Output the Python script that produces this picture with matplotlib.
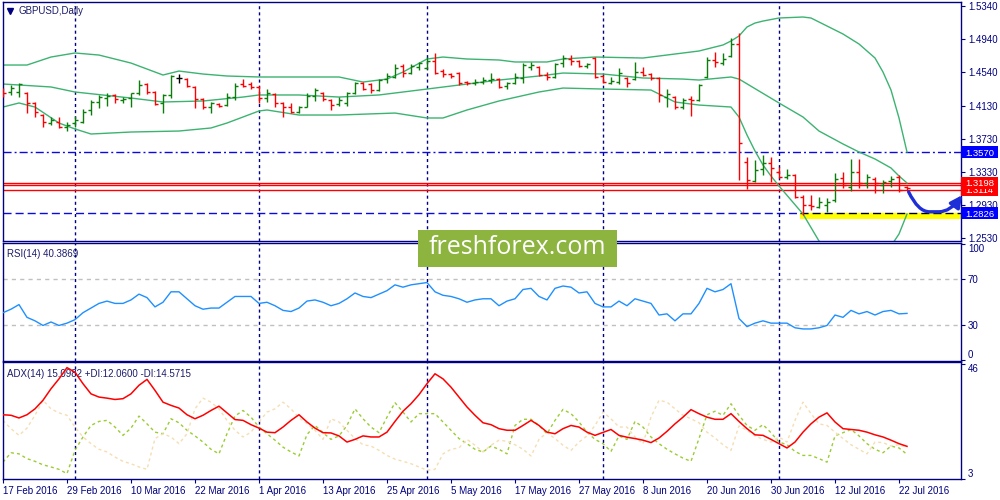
import numpy as np
import pandas as pd
import matplotlib
matplotlib.use('Agg')
from matplotlib import pyplot as plt
from matplotlib.patches import Rectangle, FancyArrowPatch
from matplotlib.path import Path
from matplotlib import transforms

plt.rcParams['font.family'] = ['Liberation Sans', 'DejaVu Sans']

# daily bars, 17 Feb 2016 .. 25 Jul 2016
dates = pd.bdate_range('2016-02-17', periods=114)

opens = [1.4322, 1.4298, 1.4298, 1.4286, 1.4165, 1.4019, 1.3922, 1.3934, 1.3874, 1.3922,
         1.3934, 1.4080, 1.4177, 1.4225, 1.4262, 1.4201, 1.4225, 1.4286, 1.4395, 1.4298,
         1.4165, 1.4262, 1.4468, 1.4455, 1.4359, 1.4213, 1.4116, 1.4153, 1.4140, 1.4237,
         1.4395, 1.4395, 1.4359, 1.4225, 1.4274, 1.4165, 1.4116, 1.4056, 1.4116, 1.4250,
         1.4286, 1.4201, 1.4153, 1.4165, 1.4286, 1.4407, 1.4395, 1.4322, 1.4455, 1.4480,
         1.4613, 1.4528, 1.4601, 1.4589, 1.4674, 1.4552, 1.4516, 1.4528, 1.4419, 1.4407,
         1.4419, 1.4443, 1.4455, 1.4371, 1.4407, 1.4468, 1.4601, 1.4601, 1.4504, 1.4480,
         1.4649, 1.4698, 1.4674, 1.4613, 1.4710, 1.4492, 1.4407, 1.4419, 1.4468, 1.4455,
         1.4540, 1.4516, 1.4468, 1.4237, 1.4237, 1.4116, 1.4213, 1.4201, 1.4480, 1.4686,
         1.4649, 1.4734, 1.4880, 1.3450, 1.3219, 1.3365, 1.3437, 1.3328, 1.3268, 1.3292,
         1.3026, 1.2928, 1.2904, 1.2928, 1.2989, 1.3256, 1.3147, 1.3328, 1.3195, 1.3244,
         1.3171, 1.3219, 1.3268, 1.3147]
highs = [1.4346, 1.4383, 1.4407, 1.4298, 1.4177, 1.4031, 1.3995, 1.3995, 1.3934, 1.4007,
         1.4092, 1.4201, 1.4262, 1.4286, 1.4274, 1.4237, 1.4286, 1.4443, 1.4407, 1.4310,
         1.4274, 1.4504, 1.4516, 1.4468, 1.4371, 1.4225, 1.4177, 1.4165, 1.4286, 1.4407,
         1.4455, 1.4419, 1.4371, 1.4334, 1.4286, 1.4177, 1.4165, 1.4128, 1.4286, 1.4346,
         1.4298, 1.4213, 1.4237, 1.4298, 1.4419, 1.4419, 1.4407, 1.4455, 1.4528, 1.4637,
         1.4637, 1.4637, 1.4662, 1.4722, 1.4771, 1.4577, 1.4528, 1.4540, 1.4431, 1.4455,
         1.4480, 1.4528, 1.4468, 1.4419, 1.4528, 1.4649, 1.4662, 1.4613, 1.4540, 1.4649,
         1.4746, 1.4746, 1.4686, 1.4649, 1.4722, 1.4504, 1.4480, 1.4589, 1.4480, 1.4662,
         1.4601, 1.4528, 1.4480, 1.4334, 1.4250, 1.4225, 1.4250, 1.4395, 1.4722, 1.4783,
         1.4771, 1.4952, 1.5013, 1.3510, 1.3474, 1.3534, 1.3510, 1.3389, 1.3365, 1.3304,
         1.3050, 1.3050, 1.3026, 1.3013, 1.3316, 1.3328, 1.3486, 1.3486, 1.3304, 1.3268,
         1.3231, 1.3280, 1.3292, 1.3159]
lows = [1.4237, 1.4262, 1.4237, 1.4043, 1.3995, 1.3874, 1.3898, 1.3862, 1.3825, 1.3874,
        1.3922, 1.4019, 1.4104, 1.4128, 1.4165, 1.4165, 1.4116, 1.4262, 1.4274, 1.4140,
        1.4043, 1.4225, 1.4407, 1.4359, 1.4104, 1.4092, 1.4043, 1.4116, 1.4128, 1.4201,
        1.4359, 1.4334, 1.4165, 1.4177, 1.4116, 1.3995, 1.4043, 1.4043, 1.4116, 1.4189,
        1.4189, 1.4080, 1.4128, 1.4128, 1.4274, 1.4322, 1.4286, 1.4310, 1.4407, 1.4468,
        1.4480, 1.4516, 1.4565, 1.4577, 1.4516, 1.4480, 1.4468, 1.4383, 1.4383, 1.4383,
        1.4395, 1.4407, 1.4346, 1.4334, 1.4395, 1.4407, 1.4565, 1.4492, 1.4443, 1.4468,
        1.4601, 1.4625, 1.4601, 1.4589, 1.4468, 1.4407, 1.4395, 1.4395, 1.4359, 1.4443,
        1.4492, 1.4443, 1.4177, 1.4116, 1.4092, 1.4092, 1.4007, 1.4189, 1.4468, 1.4601,
        1.4625, 1.4722, 1.3231, 1.3122, 1.3207, 1.3292, 1.3207, 1.3256, 1.3244, 1.3013,
        1.2807, 1.2868, 1.2892, 1.2844, 1.2965, 1.3134, 1.3098, 1.3134, 1.3134, 1.3074,
        1.3074, 1.3147, 1.3086, 1.3110]
closes = [1.4286, 1.4346, 1.4395, 1.4165, 1.4056, 1.3934, 1.3959, 1.3874, 1.3898, 1.3959,
          1.4056, 1.4177, 1.4237, 1.4250, 1.4213, 1.4213, 1.4286, 1.4383, 1.4298, 1.4153,
          1.4262, 1.4492, 1.4468, 1.4371, 1.4213, 1.4116, 1.4165, 1.4128, 1.4237, 1.4371,
          1.4371, 1.4359, 1.4225, 1.4286, 1.4165, 1.4116, 1.4056, 1.4116, 1.4250, 1.4322,
          1.4213, 1.4140, 1.4201, 1.4286, 1.4407, 1.4334, 1.4322, 1.4443, 1.4492, 1.4589,
          1.4528, 1.4613, 1.4649, 1.4674, 1.4528, 1.4516, 1.4492, 1.4407, 1.4407, 1.4419,
          1.4443, 1.4455, 1.4359, 1.4407, 1.4480, 1.4625, 1.4625, 1.4504, 1.4480, 1.4637,
          1.4710, 1.4674, 1.4613, 1.4637, 1.4480, 1.4419, 1.4431, 1.4528, 1.4407, 1.4540,
          1.4504, 1.4468, 1.4262, 1.4274, 1.4116, 1.4201, 1.4201, 1.4383, 1.4686, 1.4662,
          1.4698, 1.4880, 1.3680, 1.3231, 1.3353, 1.3437, 1.3377, 1.3268, 1.3292, 1.3026,
          1.2928, 1.2916, 1.2965, 1.2965, 1.3244, 1.3171, 1.3328, 1.3195, 1.3268, 1.3195,
          1.3207, 1.3244, 1.3110, 1.3134]

# Bollinger bands (20, 2), read at bar indices
bb_up_idx = [0, 3, 6, 9, 12, 16, 20, 22, 25, 28, 32, 37, 42, 45, 48, 50, 53, 55, 58, 62,
             64, 68, 70, 74, 80, 87, 90, 91, 92, 93, 94, 95, 97, 100, 101, 103, 105, 107,
             109, 110, 111, 112, 113]
bb_up = [1.4625, 1.4625, 1.4722, 1.4771, 1.4746, 1.4649, 1.4504, 1.4552, 1.4516, 1.4492,
         1.4480, 1.4480, 1.4480, 1.4419, 1.4455, 1.4540, 1.4698, 1.4722, 1.4698, 1.4686,
         1.4662, 1.4662, 1.4698, 1.4722, 1.4710, 1.4795, 1.4868, 1.4916, 1.4977, 1.5086,
         1.5134, 1.5158, 1.5195, 1.5207, 1.5195, 1.5098, 1.5001, 1.4880, 1.4710, 1.4540,
         1.4322, 1.3983, 1.3571]
bb_mid_idx = [0, 6, 9, 16, 20, 25, 30, 32, 37, 42, 47, 53, 62, 67, 70, 75, 80, 85, 87, 91,
              92, 97, 100, 102, 105, 107, 109, 111, 112, 113]
bb_mid = [1.4395, 1.4359, 1.4298, 1.4225, 1.4177, 1.4189, 1.4237, 1.4262, 1.4262, 1.4237,
          1.4262, 1.4334, 1.4443, 1.4492, 1.4528, 1.4516, 1.4468, 1.4455, 1.4443, 1.4480,
          1.4455, 1.4165, 1.3995, 1.3825, 1.3668, 1.3571, 1.3486, 1.3377, 1.3280, 1.3195]
bb_low_idx = [0, 2, 4, 7, 9, 11, 16, 22, 26, 28, 32, 33, 37, 42, 49, 53, 55, 58, 62, 67,
              70, 75, 81, 84, 87, 91, 92, 93, 94, 95, 96, 97, 100, 102, 103, 105, 107, 109,
              110, 111, 112, 113]
bb_low = [1.4116, 1.4165, 1.4116, 1.3922, 1.3850, 1.3789, 1.3813, 1.3825, 1.3862, 1.3922,
          1.4068, 1.4080, 1.4019, 1.4019, 1.4043, 1.3983, 1.3983, 1.4080, 1.4189, 1.4298,
          1.4346, 1.4334, 1.4322, 1.4177, 1.4140, 1.4116, 1.3995, 1.3777, 1.3583, 1.3413,
          1.3280, 1.3159, 1.2819, 1.2492, 1.2407, 1.2335, 1.2262, 1.2262, 1.2335, 1.2431,
          1.2577, 1.2819]

rsi = [41, 44, 48, 37, 34, 30, 33, 30, 32, 35,
       41, 45, 49, 51, 49, 49, 52, 57, 54, 46,
       50, 59, 59, 53, 47, 44, 45, 45, 50, 55,
       55, 55, 49, 50, 47, 43, 42, 45, 51, 52,
       50, 47, 49, 53, 58, 55, 54, 57, 60, 65,
       63, 65, 66, 67, 59, 56, 55, 53, 50, 52,
       53, 53, 47, 51, 53, 61, 62, 55, 52, 62,
       64, 63, 58, 59, 49, 46, 46, 51, 47, 53,
       51, 49, 39, 40, 34, 40, 40, 49, 62, 59,
       61, 66, 36, 29, 32, 34, 32, 32, 32, 28,
       27, 27, 28, 30, 39, 37, 43, 40, 42, 39,
       42, 43, 40, 40.4]

adx = [26.9, 26.7, 25.7, 26.9, 29.1, 32.3, 36.6, 40.3, 44.5, 42.8,
       38.5, 34.7, 33.5, 33.1, 32.6, 32.9, 34.7, 37.9, 40.1, 36.0,
       31.6, 30.4, 29.4, 26.9, 25.4, 26.7, 28.5, 30.1, 27.6, 25.1,
       24.8, 23.2, 21.9, 20.4, 20.2, 22.3, 24.8, 26.9, 24.2, 21.9,
       20.2, 20.1, 19.0, 16.7, 17.7, 19.0, 18.6, 18.6, 20.4, 24.4,
       28.2, 31.0, 34.4, 38.5, 42.2, 40.3, 37.2, 33.5, 29.8, 26.7,
       23.9, 23.2, 21.7, 21.1, 21.1, 22.9, 24.8, 22.9, 20.4, 19.8,
       21.7, 22.9, 22.3, 20.4, 19.2, 20.3, 21.4, 19.2, 18.5, 18.0,
       17.4, 16.5, 18.2, 20.7, 23.5, 26.0, 28.8, 27.3, 26.0, 25.2,
       25.2, 27.3, 24.4, 21.7, 19.4, 19.2, 17.7, 16.1, 14.5, 16.7,
       20.4, 23.5, 26.0, 27.6, 24.2, 21.7, 21.4, 21.1, 20.4, 19.4,
       18.6, 17.4, 16.1, 15.1]
plus_di = [9.2, 12.7, 12.3, 10.5, 9.5, 8.2, 7.4, 6.5, 4.9, 13.6,
           18.6, 22.9, 24.4, 24.8, 22.3, 19.2, 21.9, 26.4, 23.5, 20.4,
           19.8, 25.4, 23.9, 21.1, 19.0, 16.7, 14.0, 12.3, 19.8, 26.4,
           28.5, 26.0, 22.3, 19.8, 17.4, 14.8, 13.0, 11.5, 19.5, 22.9,
           20.2, 17.7, 19.0, 22.9, 29.1, 25.4, 22.3, 20.2, 26.0, 31.4,
           27.9, 24.2, 27.3, 27.3, 27.3, 24.2, 21.1, 18.0, 16.1, 14.0,
           13.0, 15.2, 14.0, 12.3, 22.9, 25.2, 25.2, 22.9, 19.8, 24.8,
           28.9, 27.3, 24.2, 20.4, 17.7, 16.1, 13.2, 19.0, 17.7, 24.4,
           22.3, 18.6, 16.1, 14.0, 12.3, 10.7, 9.5, 18.0, 26.9, 28.2,
           26.7, 31.0, 26.7, 22.9, 21.1, 23.2, 20.2, 16.7, 15.7, 13.2,
           11.7, 11.7, 10.5, 9.2, 19.0, 20.2, 21.4, 19.0, 16.1, 14.0,
           12.7, 15.2, 14.5, 12.1]
minus_di = [24.8, 21.7, 19.2, 21.9, 26.7, 32.3, 29.1, 27.6, 26.7, 22.3,
            18.6, 16.1, 14.0, 13.0, 11.1, 9.5, 8.6, 7.4, 6.5, 18.0,
            19.8, 18.6, 16.1, 19.8, 29.1, 33.1, 31.6, 29.1, 24.8, 21.1,
            18.6, 20.4, 24.2, 27.9, 29.1, 31.6, 29.1, 25.7, 23.7, 21.1,
            17.7, 25.4, 24.2, 21.1, 18.0, 15.7, 15.2, 13.6, 11.7, 10.3,
            9.5, 8.6, 7.4, 6.2, 6.5, 12.3, 14.0, 14.5, 17.7, 15.5,
            13.0, 15.5, 17.4, 17.0, 15.7, 14.0, 11.5, 17.7, 20.2, 18.0,
            15.5, 13.6, 16.7, 19.0, 22.9, 27.9, 25.4, 22.3, 22.3, 18.6,
            16.1, 26.0, 32.3, 31.6, 29.1, 26.7, 25.4, 23.9, 20.4, 18.2,
            15.7, 13.6, 22.7, 21.1, 19.0, 17.7, 16.7, 18.6, 16.7, 24.8,
            31.6, 27.3, 23.5, 22.9, 20.4, 18.0, 15.7, 14.0, 12.3, 16.7,
            16.5, 15.2, 15.7, 14.6]

price_ticks = [1.2530, 1.2930, 1.3330, 1.3730, 1.4130, 1.4540, 1.4940, 1.5340]
resistance = 1.3570
support = 1.2826
red_levels = [1.3198, 1.3170, 1.3114]
zone_low = 1.2758
zone_start = 99.6
# hand-drawn arrow (bar, price)
arrow_pts = [(113.2, 1.3088), (114.4, 1.2846), (115.8, 1.2846), (117.0, 1.2846),
             (118.4, 1.2846), (119.9, 1.3048)]

for s in (opens, highs, lows, closes, rsi, adx, plus_di, minus_di):
    assert len(s) == len(dates)

NAVY = '#000080'
TXT = '#1c1c6c'
UP = '#0b7d0b'
DOWN = '#ff0000'
BAND = '#3cb371'
BLUE = '#0a0ae0'

fig = plt.figure(figsize=(10, 5), dpi=100)
fig.patch.set_facecolor('white')


def panel(top, bottom):
    a = fig.add_axes([2.5 / 1000, 1 - bottom / 500, (961 - 2.5) / 1000, (bottom - top) / 500])
    for sp in a.spines.values():
        sp.set_color(NAVY)
        sp.set_linewidth(1.0)
    a.set_xlim(-0.06, 119.75)
    a.yaxis.tick_right()
    a.tick_params(axis='y', direction='out', length=3, color=NAVY, labelcolor=NAVY,
                  labelsize=7, pad=2)
    a.tick_params(axis='x', bottom=False, labelbottom=False)
    return a


ax = panel(2, 241)
ax_rsi = panel(242.5, 360.5)
ax_adx = panel(362, 479)

x = np.arange(len(dates))
month_starts = [i for i in range(1, len(dates)) if dates[i].month != dates[i - 1].month]
for a in (ax, ax_rsi, ax_adx):
    for m in month_starts:
        a.axvline(m, color=NAVY, lw=1.0, ls=(0, (2.2, 2.2)), zorder=1.5)

# ---- price panel
ax.set_ylim(1.2492, 1.5389)
ax.set_yticks(price_ticks, [f'{p:.4f}' for p in price_ticks])

ax.add_patch(Rectangle((zone_start, zone_low), 120.1 - zone_start, support - zone_low,
                       facecolor='#ffff00', edgecolor='none', zorder=1, clip_on=False))
ax.axhline(resistance, color=BLUE, lw=1.0, ls=(0, (5.8, 2.2, 1.4, 2.2)), zorder=1.6)
ax.hlines(support, -0.06, zone_start, color=BLUE, lw=1.0, ls=(0, (5.8, 2.9)), zorder=1.6)
ax.hlines(support, zone_start, 119.75, color='black', lw=1.0, ls=(0, (5.8, 2.9)), zorder=1.6)
for lv in red_levels:
    ax.axhline(lv, color=DOWN, lw=1.0, zorder=1.7)

ax.plot(bb_up_idx, bb_up, color=BAND, lw=1.0, zorder=2)
ax.plot(bb_mid_idx, bb_mid, color=BAND, lw=1.0, zorder=2)
ax.plot(bb_low_idx, bb_low, color=BAND, lw=1.0, zorder=2)

o = np.array(opens)
c = np.array(closes)
cols = np.where(c > o, UP, np.where(c < o, DOWN, 'black'))
ax.vlines(x, lows, highs, colors=cols, lw=1.0, zorder=3)
ax.hlines(opens, x - 0.32, x, colors=cols, lw=1.0, zorder=3)
ax.hlines(closes, x, x + 0.32, colors=cols, lw=1.0, zorder=3)

verts = arrow_pts
codes = [Path.MOVETO, Path.CURVE3, Path.CURVE3, Path.LINETO, Path.CURVE3, Path.CURVE3]
arrow = FancyArrowPatch(path=Path(verts, codes), arrowstyle='-|>,head_length=7,head_width=3.5',
                        lw=2.4, color='#1f2fd8', clip_on=False, zorder=10)
ax.add_patch(arrow)

# price flags on the right scale (box 37 px wide, 12 px tall)
flag_tr = transforms.blended_transform_factory(ax.transAxes, ax.transData)
flag_w = 37 / 958.5
flag_h = 12 * (1.5389 - 1.2492) / 239
for val, col, z in [(resistance, '#0000ff', 11), (1.3114, '#ff0000', 11),
                    (1.3198, '#ff0000', 12), (support, '#0000ff', 11)]:
    ax.add_patch(Rectangle((1.0, val - flag_h / 2), flag_w, flag_h, transform=flag_tr,
                           facecolor=col, edgecolor='none', clip_on=False, zorder=z))
    ax.text(1.0 + flag_w / 2, val, f'{val:.4f}', transform=flag_tr, color='white',
            fontsize=6.8, ha='center', va='center_baseline', zorder=z + 0.5, clip_on=False)

ax.plot([0.0075], [0.962], marker='v', ms=4, color=NAVY, transform=ax.transAxes)
ax.text(0.0165, 0.962, 'GBPUSD,Daily', transform=ax.transAxes, fontsize=7, color=TXT,
        ha='left', va='center')

# ---- RSI panel
ax_rsi.set_ylim(-0.2, 101.5)
ax_rsi.set_yticks([0, 30, 70, 100], ['0', '30', '70', '100'])
lbl = ax_rsi.get_yticklabels()
lbl[0].set_va('bottom')
lbl[-1].set_va('top')
for lv in (30, 70):
    ax_rsi.axhline(lv, color='#c0c0c0', lw=1.0, ls=(0, (3, 3)), zorder=1)
ax_rsi.plot(x, rsi, color='#1e90ff', lw=1.0, zorder=3)
ax_rsi.text(0.0048, 0.9, 'RSI(14) 40.3869', transform=ax_rsi.transAxes, fontsize=7,
            color=TXT, ha='left', va='center', zorder=1)

# ---- ADX panel
ax_adx.set_ylim(2.9, 46.6)
ax_adx.set_yticks([3, 46], ['3', '46'])
lbl = ax_adx.get_yticklabels()
lbl[0].set_va('bottom')
lbl[-1].set_va('top')
ax_adx.plot(x, plus_di, color='#9acd32', lw=1.0, ls=(0, (2.2, 2.2)), zorder=2)
ax_adx.plot(x, minus_di, color='#f5deb3', lw=1.0, ls=(0, (2.2, 2.2)), zorder=2)
ax_adx.plot(x, adx, color='#ff0000', lw=1.1, zorder=3)
ax_adx.text(0.0048, 0.9, 'ADX(14) 15.0982 +DI:12.0600 -DI:14.5715', transform=ax_adx.transAxes,
            fontsize=7, color=TXT, ha='left', va='center', zorder=1)

tick_pos = x[::8]
ax_adx.tick_params(axis='x', bottom=True, labelbottom=True, direction='out', length=3,
                   color=NAVY, labelcolor=NAVY, labelsize=7, pad=2)
ax_adx.set_xticks(tick_pos, [f'{d.day} {d:%b %Y}' for d in dates[::8]])
plt.setp(ax_adx.get_xticklabels(), ha='left')

# ---- watermark
fig.add_artist(Rectangle((418 / 1000, 1 - 267 / 500), 199 / 1000, 37 / 500,
                         transform=fig.transFigure, facecolor='#8cb43f', edgecolor='none',
                         zorder=20))
fig.text(517 / 1000, 1 - 248 / 500, 'freshforex.com', fontsize=18, family='Open Sans',
         color='white', ha='center', va='center', zorder=21)

fig.savefig('out.png', dpi=100, facecolor='white')
